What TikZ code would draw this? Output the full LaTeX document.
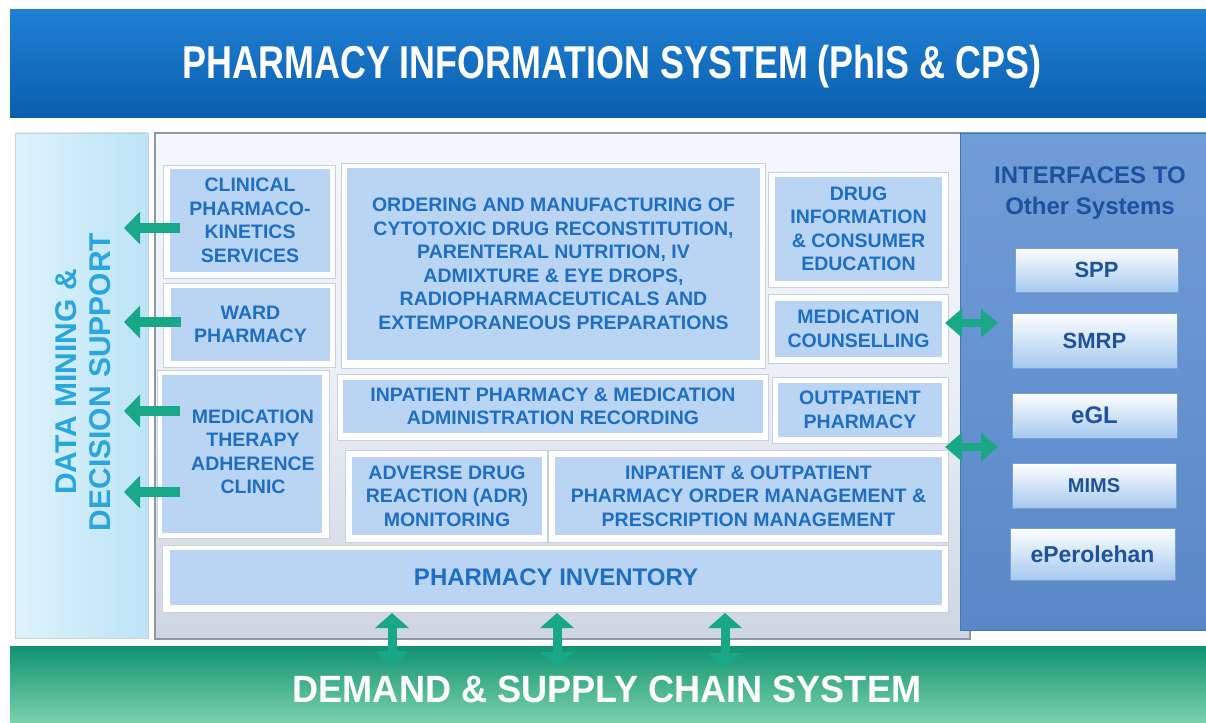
\documentclass[tikz,border=0pt]{standalone}
\usepackage{fontspec}
\setmainfont{Liberation Sans}
\newfontfamily\titlefont[FakeStretch=0.78]{Liberation Sans}
\newfontfamily\bandfont[FakeStretch=0.95]{Liberation Sans}
\usetikzlibrary{arrows.meta,calc,fit}
\definecolor{boxblue}{RGB}{185,213,243}
\definecolor{txtblue}{RGB}{30,110,195}
\definecolor{tealarr}{RGB}{24,168,136}
\definecolor{dmtxt}{RGB}{42,166,222}
\definecolor{ifctxt}{RGB}{26,82,160}
\definecolor{btntxt}{RGB}{30,82,155}
\definecolor{framegray}{RGB}{200,208,218}
\definecolor{topA}{RGB}{32,128,212}
\definecolor{topB}{RGB}{10,94,174}
\definecolor{dmA}{RGB}{222,243,252}
\definecolor{dmB}{RGB}{188,227,246}
\definecolor{mainA}{RGB}{244,247,251}
\definecolor{mainM}{RGB}{234,239,246}
\definecolor{mainB}{RGB}{206,214,226}
\definecolor{mainBorder}{RGB}{140,152,166}
\definecolor{rpA}{RGB}{112,157,215}
\definecolor{rpB}{RGB}{90,136,200}
\definecolor{rpBorder}{RGB}{70,115,180}
\definecolor{btnB}{RGB}{165,200,238}
\definecolor{btnBorder}{RGB}{120,160,210}
\definecolor{gA}{RGB}{16,146,112}
\definecolor{gB}{RGB}{122,210,170}
\begin{document}
\begin{tikzpicture}[x=1pt,y=-1pt,
  fitbox/.style={inner sep=0pt, outer sep=0pt},
  frm/.style={fill=white, draw=framegray, line width=0.8pt},
  pbox/.style={inner sep=0pt, outer sep=0pt, fill=boxblue, text=txtblue, align=center,
    font=\bfseries\fontsize{19.5}{23.5}\selectfont},
  btn/.style={inner sep=0pt, outer sep=0pt, top color=white, bottom color=btnB, draw=btnBorder,
    line width=0.6pt, text=btntxt, font=\bfseries\fontsize{22}{26}\selectfont},
  larr/.style={draw=tealarr, line width=10pt, -{Triangle[length=16pt,width=32pt]}},
  hdarr/.style={draw=tealarr, line width=8pt,
    {Triangle[length=17pt,width=28pt]}-{Triangle[length=17pt,width=28pt]}},
  vdarr/.style={draw=tealarr, line width=9pt,
    {Triangle[length=15pt,width=33pt]}-{Triangle[length=15pt,width=33pt]}}
]
\useasboundingbox (0,0) rectangle (1206,722);
\fill[white] (0,0) rectangle (1206,722);

% top banner
\node[fitbox, top color=topA, bottom color=topB, fit={(10,10) (1206,118)}] (topband) {};
\node[text=white, font=\titlefont\bfseries\fontsize{46}{50}\selectfont] (title) at (612,67)
  {PHARMACY INFORMATION SYSTEM (PhIS \& CPS)};

% left panel
\node[fitbox, left color=dmA, right color=dmB, draw=framegray, line width=0.6pt,
  fit={(15,133) (148,638)}] (dm) {};
\node[rotate=90, align=center, text=dmtxt, font=\bfseries\fontsize{30}{34}\selectfont]
  (dmtext) at (83,382) {DATA MINING \&\\DECISION SUPPORT};

% main panel
\node[fitbox, top color=mainA, bottom color=mainB, middle color=mainM,
  draw=mainBorder, line width=1.2pt, fit={(155,133) (970,639)}] (main) {};

% right panel
\node[fitbox, top color=rpA, bottom color=rpB, draw=rpBorder, line width=0.8pt,
  fit={(960,133) (1206,630)}] (ifc) {};
\node[align=center, text=ifctxt, font=\bfseries\fontsize{24}{31}\selectfont]
  (ifctitle) at (1090,193) {INTERFACES TO\\Other Systems};

% green band
\node[fitbox, top color=gA, bottom color=gB, fit={(10,646) (1206,722)}] (dscs) {};
\node[text=white, font=\bandfont\bfseries\fontsize{38}{42}\selectfont] (dscstext) at (607,689)
  {DEMAND \& SUPPLY CHAIN SYSTEM};

% frames
\path[frm] (163,165) rectangle (335,278);
\path[frm] (163,283) rectangle (335,367);
\path[frm] (341,163) rectangle (765,368);
\path[frm] (768,172) rectangle (948,287);
\path[frm] (768,294) rectangle (948,363);
\path[frm] (157,370) rectangle (329,538);
\path[frm] (337,374) rectangle (768,440);
\path[frm] (772,377) rectangle (948,443);
\path[frm] (345,450) rectangle (547,542);
\path[frm] (548,450) rectangle (948,542);
\path[frm] (162,545) rectangle (948,612);

% boxes
\node[pbox, minimum width=160pt, minimum height=103pt] (cps) at (250,220.5) {CLINICAL\\PHARMACO-\\KINETICS\\SERVICES};
\node[pbox, minimum width=159pt, minimum height=73pt] (ward) at (250.5,324.5) {WARD\\PHARMACY};
\node[pbox, minimum width=413pt, minimum height=192pt] (ord) at (553.5,264) {ORDERING AND MANUFACTURING OF\\CYTOTOXIC DRUG RECONSTITUTION,\\PARENTERAL NUTRITION, IV\\ADMIXTURE \& EYE DROPS,\\RADIOPHARMACEUTICALS AND\\EXTEMPORANEOUS PREPARATIONS};
\node[pbox, minimum width=167pt, minimum height=104pt] (dic) at (858.5,229) {DRUG\\INFORMATION\\\& CONSUMER\\EDUCATION};
\node[pbox, minimum width=167pt, minimum height=56pt] (mc) at (858.5,329) {MEDICATION\\COUNSELLING};
\node[pbox, minimum width=160pt, minimum height=158pt] (mtac) at (242,454)
  {\hspace*{22pt}\begin{tabular}{@{}c@{}}MEDICATION\\THERAPY\\ADHERENCE\\CLINIC\end{tabular}};
\node[pbox, minimum width=420pt, minimum height=53pt] (ipm) at (553,406.5) {INPATIENT PHARMACY \& MEDICATION\\ADMINISTRATION RECORDING};
\node[pbox, minimum width=164pt, minimum height=54pt] (op) at (860,410) {OUTPATIENT\\PHARMACY};
\node[pbox, minimum width=190pt, minimum height=78pt] (adr) at (447,496) {ADVERSE DRUG\\REACTION (ADR)\\MONITORING};
\node[pbox, minimum width=387pt, minimum height=78pt] (pom) at (748.5,496) {INPATIENT \& OUTPATIENT\\PHARMACY ORDER MANAGEMENT \&\\PRESCRIPTION MANAGEMENT};
\node[pbox, minimum width=772pt, minimum height=55pt, font=\bfseries\fontsize{24}{28}\selectfont] (inv) at (556,577.5) {PHARMACY INVENTORY};

% interface buttons
\node[btn, minimum width=163pt, minimum height=44pt] (spp) at (1096.5,270) {SPP};
\node[btn, minimum width=165pt, minimum height=55pt] (smrp) at (1094.5,340.5) {SMRP};
\node[btn, minimum width=165pt, minimum height=45pt, font=\bfseries\fontsize{24}{28}\selectfont] (egl) at (1094.5,415.5) {eGL};
\node[btn, minimum width=164pt, minimum height=45pt, font=\bfseries\fontsize{20}{24}\selectfont] (mims) at (1094,485.5) {MIMS};
\node[btn, minimum width=165pt, minimum height=52pt, font=\bfseries\fontsize{23}{27}\selectfont] (eper) at (1092.5,554) {ePerolehan};

% coordinates for free ends
\coordinate (dm1) at (124,228);
\coordinate (dm2) at (124,322);
\coordinate (dm3) at (124,411);
\coordinate (dm4) at (124,492);
\coordinate (if1) at (998,323);
\coordinate (if2) at (998,447);
\coordinate (g1) at (392,666);
\coordinate (g2) at (557,667);
\coordinate (g3) at (725,668);

% left arrows
\draw[larr] ([shift={(10,7.5)}]cps.west) -- (dm1);
\draw[larr] ([shift={(10,-2.5)}]ward.west) -- (dm2);
\draw[larr] ([shift={(18,-43)}]mtac.west) -- (dm3);
\draw[larr] ([shift={(18,38)}]mtac.west) -- (dm4);

% interface arrows
\draw[hdarr] ([shift={(3,-6)}]mc.east) -- (if1);
\draw[hdarr] ([shift={(3,10)}]op.south east) -- (if2);

% supply chain arrows
\draw[vdarr] ($(g1 |- inv.south)+(0,8)$) -- (g1);
\draw[vdarr] ($(g2 |- inv.south)+(0,8)$) -- (g2);
\draw[vdarr] ($(g3 |- inv.south)+(0,8)$) -- (g3);
\end{tikzpicture}
\end{document}
